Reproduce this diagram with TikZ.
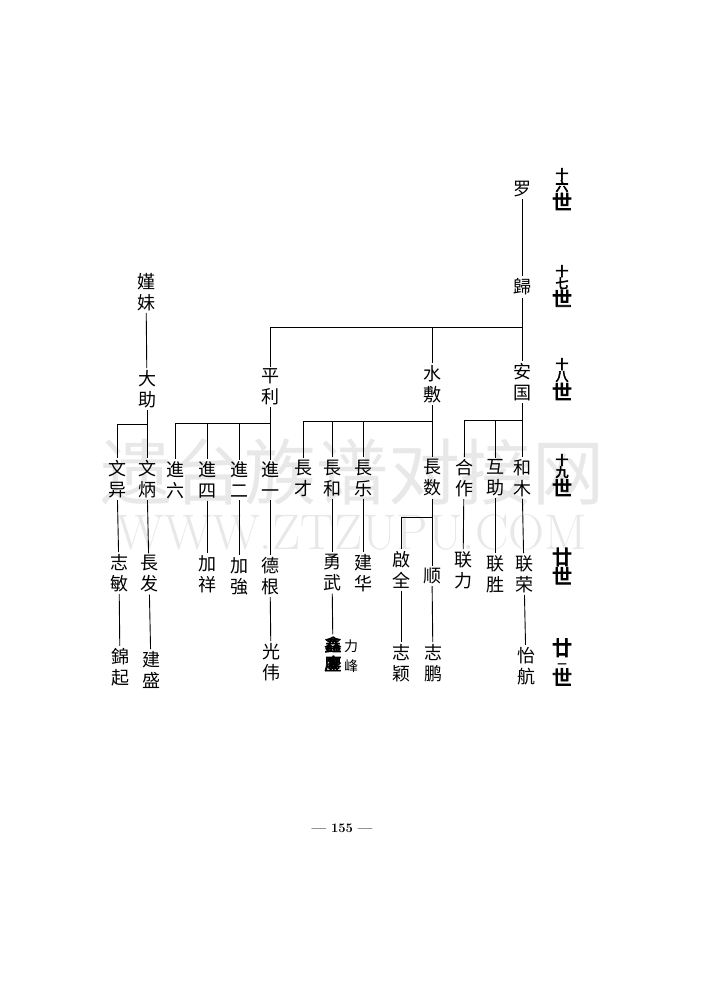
\documentclass[tikz,border=0pt]{standalone}
\usepackage{fontspec}
\newfontfamily\cjk{Noto Sans CJK SC}
\newfontfamily\cjkb[AutoFakeBold=4]{Noto Sans CJK SC}
\usetikzlibrary{positioning, calc}

\newcommand\genbig{\fontsize{20}{19}\selectfont}
\newcommand\gensml{\fontsize{13}{11}\selectfont}

\tikzset{
    person/.style={font=\cjk\fontsize{18}{21}\selectfont, align=center, inner sep=2pt},
    gen/.style={font=\cjkb\bfseries, align=center, inner sep=1pt},
    link/.style={line width=0.9pt},
    mark wm/.style={text=black!9, inner sep=0pt},
}

\begin{document}
\begin{tikzpicture}[x=1pt, y=-1pt]
    \useasboundingbox (0,0) rectangle (710,1000);

    % watermark
    \node[mark wm, font=\cjk\fontsize{72}{72}\selectfont] (wm1) at (352,472) {遗台族谱对接网};
    \node[mark wm, font=\fontsize{50}{50}\selectfont] (wm2) at (352,532) {WWW.ZTZUPU.COM};

    % generations
    \foreach \a/\b/\y [count=\i from 16] in {十/六/189, 十/七/286, 十/八/379, 十/九/475}{
        \node[gen] (g\i) at (562,\y) {\gensml\a\\\gensml\b\\\genbig 世};
    }
    \node[gen] (g20) at (562,566) {\genbig 廿\\\genbig 世};
    \node[gen] (g21) at (562,662) {\genbig 廿\\\fontsize{9}{6}\selectfont 一\\\genbig 世};

    % trunk
    \node[person] (luo) at (522,189) {罗};
    \node[person] (gui) at (522,287) {歸};
    \node[person] (anguo) at (522,382) {安\\国};
    \node[person] (pingli) at (270,387) {平\\利};
    \node[person] (shuifu) at (432,384) {水\\敷};
    \coordinate (bar16) at (522,327);

    \draw[link] (luo) -- (gui);
    \draw[link] (gui) -- (anguo);
    \draw[link] (pingli) |- (bar16);
    \draw[link] (shuifu) -- (shuifu |- bar16);

    % left line
    \node[person] (jiamei) at (146,292) {嫤\\妹};
    \node[person] (dazhu) at (147,389) {大\\助};
    \node[person] (wenyi) at (117,479) {文\\异};
    \node[person] (wenbing) at (147,479) {文\\炳};
    \node[person] (zhimin) at (119,573) {志\\敏};
    \node[person] (changfa) at (149,574) {長\\发};
    \node[person] (jinqi) at (120,667) {錦\\起};
    \node[person] (jiansheng) at (151,670) {建\\盛};
    \coordinate (dz) at (147,424);

    \draw[link] (jiamei) -- (dazhu);
    \draw[link] (dazhu) -- (dz);
    \draw[link] (wenyi) |- (dz);
    \draw[link] (wenbing) -- (dz);
    \draw[link] (wenyi) -- (zhimin);
    \draw[link] (zhimin) -- (jinqi);
    \draw[link] (wenbing) -- (changfa);
    \draw[link] (changfa) -- (jiansheng);

    % pingli
    \node[person] (jin6) at (175,480) {進\\六};
    \node[person] (jin4) at (207,480) {進\\四};
    \node[person] (jin2) at (239,480) {進\\二};
    \node[person] (jin1) at (270,480) {進\\一};
    \node[person] (jiaxiang) at (207,574) {加\\祥};
    \node[person] (jiaqiang) at (239,576) {加\\強};
    \node[person] (degen) at (270,576) {德\\根};
    \node[person] (guangwei) at (271,662) {光\\伟};
    \coordinate (pl) at (270,423);

    \draw[link] (pingli) -- (jin1);
    \draw[link] (jin6) |- (pl);
    \draw[link] (jin4) |- (pl);
    \draw[link] (jin2) |- (pl);
    \draw[link] (jin4) -- (jiaxiang);
    \draw[link] (jin2) -- (jiaqiang);
    \draw[link] (jin1) -- (degen);
    \draw[link] (degen) -- (guangwei);

    % shuifu
    \node[person] (changcai) at (303,478) {長\\才};
    \node[person] (changhe) at (332,478) {長\\和};
    \node[person] (changle) at (363,478) {長\\乐};
    \node[person] (changshu) at (432,478) {長\\数};
    \node[person] (yongwu) at (332,573) {勇\\武};
    \node[person] (jianhua) at (363,573) {建\\华};
    \node[person, font=\cjkb\bfseries\fontsize{17}{19}\selectfont] (xin) at (333,654) {鑫\\鏖};
    \node[person, font=\cjk\fontsize{14}{20}\selectfont] (lifeng) at (351,656) {力\\峰};
    \node[person] (qiquan) at (401,570) {啟\\全};
    \node[person] (shun) at (432,576) {顺};
    \node[person] (zhiying) at (401,663) {志\\颖};
    \node[person] (zhipeng) at (433,663) {志\\鹏};
    \coordinate (sf) at (432,421);
    \coordinate (cs) at (432,517);

    \draw[link] (shuifu) -- (changshu);
    \draw[link] (changcai) |- (sf);
    \draw[link] (changhe) |- (sf);
    \draw[link] (changle) |- (sf);
    \draw[link] (changhe) -- (yongwu);
    \draw[link] (yongwu) -- (xin);
    \draw[link] (changle) -- (jianhua);
    \draw[link] (changshu) -- (shun);
    \draw[link] (qiquan) |- (cs);
    \draw[link] (qiquan) -- (zhiying);
    \draw[link] (shun) -- (zhipeng);

    % anguo
    \node[person] (hezuo) at (464,478) {合\\作};
    \node[person] (huzhu) at (495,478) {互\\助};
    \node[person] (hemu) at (522,478) {和\\木};
    \node[person] (lianli) at (463,570) {联\\力};
    \node[person] (liansheng) at (495,574) {联\\胜};
    \node[person] (lianrong) at (524,574) {联\\荣};
    \node[person] (yihang) at (526,666) {怡\\航};
    \coordinate (ag) at (522,420);

    \draw[link] (anguo) -- (hemu);
    \draw[link] (hezuo) |- (ag);
    \draw[link] (huzhu) |- (ag);
    \draw[link] (hezuo) -- (lianli);
    \draw[link] (huzhu) -- (liansheng);
    \draw[link] (hemu) -- (lianrong);
    \draw[link] (lianrong) -- (yihang);

    % page number
    \node[font=\bfseries\fontsize{13}{15}\selectfont] (page) at (342,828) {--- 155 ---};

\end{tikzpicture}
\end{document}
